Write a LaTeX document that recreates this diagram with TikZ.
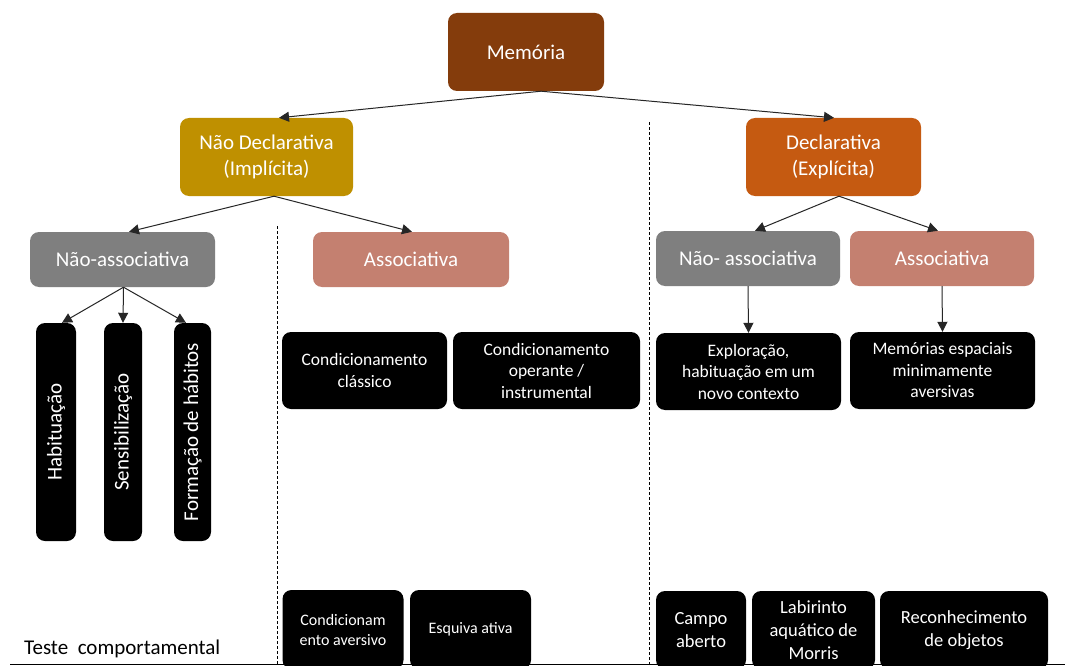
\documentclass[tikz,border=0pt]{standalone}
\usepackage{fontspec}
\setmainfont{Carlito}
\usetikzlibrary{arrows.meta,calc}
\definecolor{cmem}{RGB}{132,60,12}
\definecolor{cnd}{RGB}{191,144,0}
\definecolor{cde}{RGB}{197,90,17}
\definecolor{cgray}{RGB}{127,127,127}
\definecolor{csal}{RGB}{196,128,112}
\tikzset{
  box/.style={rounded corners=9pt, inner sep=0pt, text=white, align=center},
  topbox/.style={box, minimum height=78pt, font=\fontsize{21}{25.6}\selectfont},
  midbox/.style={box, minimum height=55pt, font=\fontsize{21}{25.6}\selectfont},
  vbox/.style={box, fill=black, minimum height=218pt, font=\fontsize{21}{25.6}\selectfont},
  blk/.style={box, fill=black, minimum height=77pt, font=\fontsize{17.5}{21.5}\selectfont},
  blks/.style={box, fill=black, minimum height=79pt, font=\fontsize{16}{20}\selectfont},
  blkr/.style={box, fill=black, minimum height=78pt, font=\fontsize{18.5}{23}\selectfont},
  arr/.style={draw=black!85, line width=1pt, -{Triangle[length=10pt,width=10pt]}},
  sep/.style={draw=black, line width=0.8pt, dash pattern=on 3pt off 2pt}
}
\begin{document}
\begin{tikzpicture}[x=1pt,y=-1pt]
\clip (0,0) rectangle (1065,666);
\fill[white] (0,0) rectangle (1065,666);
% separators
\draw[sep] (277,226) -- (277,666);
\draw[sep] (649,122) -- (649,666);
% nodes
\node[topbox, fill=cmem, minimum width=156pt] (mem) at (526,52) {Memória};
\node[topbox, fill=cnd, minimum width=173pt] (nd) at (266.5,157) {Não Declarativa\\(Implícita)};
\node[topbox, fill=cde, minimum width=175pt] (de) at (833.5,157) {Declarativa\\(Explícita)};
\node[midbox, fill=cgray, minimum width=185pt] (nas) at (122.5,259.5) {Não-associativa};
\node[midbox, fill=csal, minimum width=196pt] (as) at (411,259.5) {Associativa};
\node[midbox, fill=cgray, minimum width=184pt] (nasr) at (748,258.5) {Não- associativa};
\node[midbox, fill=csal, minimum width=184pt] (asr) at (942,258.5) {Associativa};
\node[vbox, minimum width=40pt] (hab) at (56,432) {\rotatebox{90}{Habituação}};
\node[vbox, minimum width=38pt] (sen) at (123,432) {\rotatebox{90}{Sensibilização}};
\node[vbox, minimum width=37pt] (for) at (192.5,432) {\rotatebox{90}{Formação de hábitos}};
\node[blk, minimum width=165pt] (cc) at (364.5,370.5) {Condicionamento\\clássico};
\node[blk, minimum width=187pt] (co) at (546.5,370.5) {Condicionamento\\operante /\\instrumental};
\node[blk, minimum width=185pt] (ex) at (748.5,371.5) {Exploração,\\habituação em um\\novo contexto};
\node[blk, minimum width=185pt] (me) at (942.5,370.5) {Memórias espaciais\\minimamente\\aversivas};
\node[blks, minimum width=121pt] (ca) at (343,629.5) {Condicionam\\ento aversivo};
\node[blks, minimum width=121pt] (ea) at (470.5,629.5) {Esquiva ativa};
\node[blkr, minimum width=90pt] (cp) at (701,630) {Campo\\aberto};
\node[blkr, minimum width=123pt] (lab) at (813.5,630) {Labirinto\\aquático de\\Morris};
\node[blkr, minimum width=168pt] (rec) at (964,630) {Reconhecimento\\de objetos};
\node[anchor=west, inner sep=0pt, font=\fontsize{21}{25.6}\selectfont] (teste) at (24,649) {Teste\ \ comportamental};
% bottom rule
\coordinate (rl) at (10,664.5);
\coordinate (rr) at (1065,664.5);
\draw[line width=1.6pt] (rl) -- (rr);
% connectors
\draw[arr] ($(mem.south)+(15,0)$) -- ($(nd.north)+(12.5,0)$);
\draw[arr] ($(mem.south)+(15,0)$) -- ($(de.north)+(0.5,0)$);
\draw[arr] ($(nd.south)+(7.5,0)$) -- ($(nas.north)+(6.5,0)$);
\draw[arr] ($(nd.south)+(7.5,0)$) -- ($(as.north)+(1,0)$);
\draw[arr] ($(de.south)+(5.5,0)$) -- ($(nasr.north)+(7,0)$);
\draw[arr] ($(de.south)+(5.5,0)$) -- ($(asr.north)+(-4,0)$);
\draw[arr] ($(nas.south)+(1,0)$) -- ($(hab.north)+(6,0)$);
\draw[arr] ($(nas.south)+(1,0)$) -- (sen.north);
\draw[arr] ($(nas.south)+(1,0)$) -- ($(for.north)+(-6.5,0)$);
\draw[arr] (nasr.south) -- (ex.north);
\draw[arr] (asr.south) -- (me.north);
\end{tikzpicture}
\end{document}
